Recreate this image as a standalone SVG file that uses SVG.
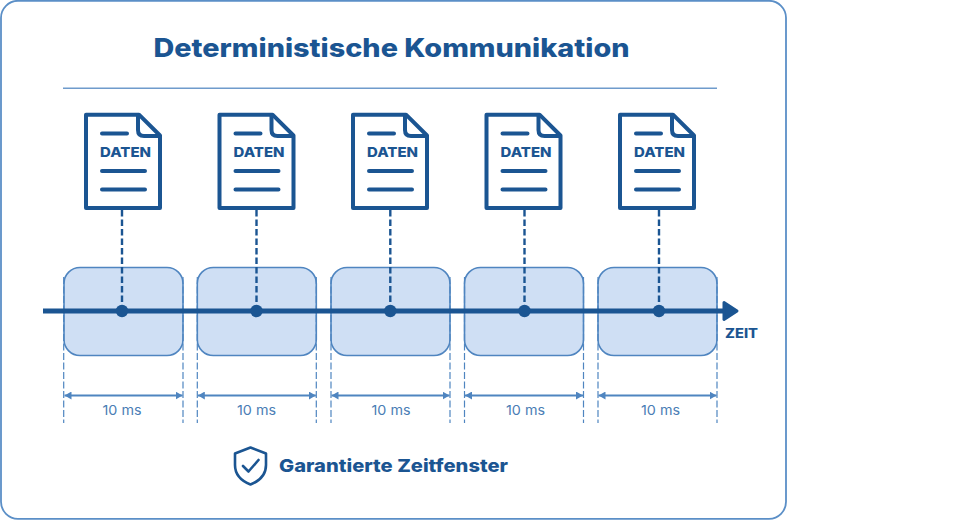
<svg xmlns="http://www.w3.org/2000/svg" xmlns:xlink="http://www.w3.org/1999/xlink" width="968" height="520" viewBox="0 0 968 520">
<style>
text{font-family:"Inter","Open Sans","Liberation Sans",sans-serif;fill:#1b5592}
.b{font-weight:700}
.x{font-weight:800}
.doc{fill:#fff;stroke:#1b5592;stroke-width:4;stroke-linejoin:round}
.fold{fill:none;stroke:#1b5592;stroke-width:4;stroke-linejoin:round}
.ln{stroke:#1b5592;stroke-width:4;stroke-linecap:round}
.slot{fill:#cfdff4;stroke:#4f85c0;stroke-width:1.6}
.ext{stroke:#4f85c0;stroke-width:1.2;stroke-dasharray:7 2.500;fill:none}
.dim{stroke:#4f85c0;stroke-width:1.800;fill:none;marker-start:url(#a2);marker-end:url(#a1)}
.drop{stroke:#1b5592;stroke-width:2.400;stroke-dasharray:6.500 3;fill:none}
.ms{font-size:13px;fill:#4a7db5;text-anchor:middle}
</style>
<defs>
<marker id="a1" viewBox="0 0 7 8" refX="7" refY="4" markerWidth="7" markerHeight="8" markerUnits="userSpaceOnUse" orient="auto"><path d="M0 0L7 4L0 8Z" fill="#4f85c0"/></marker>
<marker id="a2" viewBox="0 0 7 8" refX="0" refY="4" markerWidth="7" markerHeight="8" markerUnits="userSpaceOnUse" orient="auto"><path d="M7 0L0 4L7 8Z" fill="#4f85c0"/></marker>
<g id="docshape">
<path class="doc" d="M86 114.700H139L160 135.500V208H86Z"/>
<path class="fold" d="M138 114.700V130Q138 136 144 136H160"/>
<path class="ln" d="M102 133.500H127M102 171H145M102 189.500H145"/>
</g>
</defs>
<rect id="card" x="1" y="0.800" width="785" height="518" rx="17" fill="#fff" stroke="#5b8fc7" stroke-width="1.800"/>
<g id="header">
<text class="x" x="391.500" y="57" font-size="25.500" text-anchor="middle" textLength="476" lengthAdjust="spacingAndGlyphs">Deterministische Kommunikation</text>
<line x1="63" y1="88.300" x2="717" y2="88.300" stroke="#6f9bcc" stroke-width="1.500"/>
</g>
<g id="slot1"><rect class="slot" x="64" y="267.500" width="119" height="88" rx="16"/></g>
<g id="slot2"><rect class="slot" x="197.300" y="267.500" width="119" height="88" rx="16"/></g>
<g id="slot3"><rect class="slot" x="331" y="267.500" width="119" height="88" rx="16"/></g>
<g id="slot4"><rect class="slot" x="464.500" y="267.500" width="119" height="88" rx="16"/></g>
<g id="slot5"><rect class="slot" x="598" y="267.500" width="119" height="88" rx="16"/></g>
<g id="connectors">
<path class="ext" d="M63.700 277V423M183 277V423M197.300 277V423M316.300 277V423M331 277V423M450 277V423M464.500 277V423M583.500 277V423M598 277V423M717 277V423"/>
<path class="dim" d="M64.500 395.500H182.500"/>
<path class="dim" d="M197.800 395.500H315.800"/>
<path class="dim" d="M331.500 395.500H449.500"/>
<path class="dim" d="M465 395.500H583"/>
<path class="dim" d="M598.500 395.500H716.500"/>
<path class="drop" d="M122 210V311M256.500 210V311M390.300 210V311M524.500 210V311M659 210V311"/>
<path d="M43 311H726" stroke="#1b5592" stroke-width="5" fill="none"/>
<path d="M724 302.500L737 311L724 319.500Z" fill="#1b5592" stroke="#1b5592" stroke-width="3" stroke-linejoin="round"/>
<g fill="#1b5592"><circle cx="122" cy="311" r="6.200"/><circle cx="256.500" cy="311" r="6.200"/><circle cx="390.300" cy="311" r="6.200"/><circle cx="524.500" cy="311" r="6.200"/><circle cx="659" cy="311" r="6.200"/></g>
</g>
<g id="doc1"><use xlink:href="#docshape" href="#docshape"/><text class="x" x="125.500" y="156.700" font-size="13.500" text-anchor="middle" textLength="51" lengthAdjust="spacingAndGlyphs">DATEN</text></g>
<g id="doc2"><use xlink:href="#docshape" href="#docshape" x="133.500"/><text class="x" x="259" y="156.700" font-size="13.500" text-anchor="middle" textLength="51" lengthAdjust="spacingAndGlyphs">DATEN</text></g>
<g id="doc3"><use xlink:href="#docshape" href="#docshape" x="267"/><text class="x" x="392.500" y="156.700" font-size="13.500" text-anchor="middle" textLength="51" lengthAdjust="spacingAndGlyphs">DATEN</text></g>
<g id="doc4"><use xlink:href="#docshape" href="#docshape" x="400.500"/><text class="x" x="526" y="156.700" font-size="13.500" text-anchor="middle" textLength="51" lengthAdjust="spacingAndGlyphs">DATEN</text></g>
<g id="doc5"><use xlink:href="#docshape" href="#docshape" x="534"/><text class="x" x="659.500" y="156.700" font-size="13.500" text-anchor="middle" textLength="51" lengthAdjust="spacingAndGlyphs">DATEN</text></g>
<g id="labels">
<text class="ms" x="122" y="415" textLength="39" lengthAdjust="spacingAndGlyphs">10 ms</text>
<text class="ms" x="256.500" y="415" textLength="39" lengthAdjust="spacingAndGlyphs">10 ms</text>
<text class="ms" x="391" y="415" textLength="39" lengthAdjust="spacingAndGlyphs">10 ms</text>
<text class="ms" x="525.500" y="415" textLength="39" lengthAdjust="spacingAndGlyphs">10 ms</text>
<text class="ms" x="660.500" y="415" textLength="39" lengthAdjust="spacingAndGlyphs">10 ms</text>
<text class="x" x="725" y="338" font-size="13" textLength="33" lengthAdjust="spacingAndGlyphs">ZEIT</text>
</g>
<g id="guarantee">
<path d="M250.500 447.500L266 453.500V465C266 474.500 259.500 481 250.500 484.500C241.500 481 235 474.500 235 465V453.500Z" fill="none" stroke="#1b5592" stroke-width="2.600" stroke-linejoin="round"/>
<path d="M243 466L248.500 471.500L258.500 460" fill="none" stroke="#1b5592" stroke-width="2.600" stroke-linecap="round" stroke-linejoin="round"/>
<text class="x" x="279" y="472" font-size="18" textLength="229" lengthAdjust="spacingAndGlyphs">Garantierte Zeitfenster</text>
</g>
</svg>
